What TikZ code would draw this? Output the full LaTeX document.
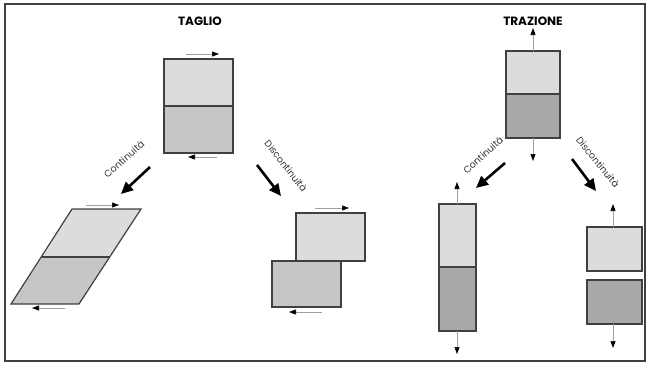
\documentclass[tikz,border=0pt]{standalone}
\usepackage{fontspec}
\setmainfont{Poppins}
\usetikzlibrary{arrows.meta}
\definecolor{edge}{HTML}{404040}
\definecolor{lightblk}{HTML}{DCDCDC}
\definecolor{midblk}{HTML}{C6C6C6}
\definecolor{darkblk}{HTML}{A8A8A8}
\tikzset{
  block/.style={draw=edge, line width=1.2pt},
  force/.style={draw=gray!75, line width=0.6pt, -{Triangle[length=7pt,width=5pt,color=black]}},
  bigarrow/.style={line width=2.6pt, -{Triangle[length=12pt,width=11pt]}},
  title/.style={font=\bfseries\fontsize{12}{13}\selectfont},
  lbl/.style={font=\fontsize{9.5}{10}\selectfont, text=black!80, inner sep=1pt},
}
\begin{document}
\begin{tikzpicture}[x=1pt,y=-1pt]
\useasboundingbox (0,0) rectangle (650,365);
\draw[edge, line width=1.3pt] (5,4) rectangle (645,361);

% ---------- shear ----------
\node[title] (taglio) at (200,21) {TAGLIO};
% undeformed block
\fill[lightblk] (164,59) rectangle (233,106);
\fill[midblk] (164,106) rectangle (233,153);
\draw[block] (164,59) rectangle (233,153);
\draw[block] (164,106) -- (233,106);
\coordinate (s1a) at (186,54); \coordinate (s1b) at (219,54);
\coordinate (s2a) at (217,157); \coordinate (s2b) at (188,157);
\draw[force] (s1a) -- (s1b);
\draw[force] (s2a) -- (s2b);
% continuous: parallelogram
\fill[lightblk] (72,209) -- (141,209) -- (110,257) -- (42,257) -- cycle;
\fill[midblk] (42,257) -- (110,257) -- (79,304) -- (11,304) -- cycle;
\draw[block] (72,209) -- (141,209) -- (79,304) -- (11,304) -- cycle;
\draw[block] (42,257) -- (110,257);
\coordinate (p1a) at (86,205); \coordinate (p1b) at (119,205);
\coordinate (p2a) at (65,308); \coordinate (p2b) at (32,308);
\draw[force] (p1a) -- (p1b);
\draw[force] (p2a) -- (p2b);
% discontinuous: slipped halves
\fill[lightblk] (296,213) rectangle (365,261);
\draw[block] (296,213) rectangle (365,261);
\fill[midblk] (272,261) rectangle (341,307);
\draw[block] (272,261) rectangle (341,307);
\coordinate (d1a) at (315,208); \coordinate (d1b) at (349,208);
\coordinate (d2a) at (322,312); \coordinate (d2b) at (289,312);
\draw[force] (d1a) -- (d1b);
\draw[force] (d2a) -- (d2b);
% branch arrows
\coordinate (sc1) at (150,167); \coordinate (sc2) at (121,194);
\draw[bigarrow] (sc1) -- (sc2);
\node[lbl, rotate=41] (sclbl) at (124,159) {Continuità};
\coordinate (sd1) at (257,165); \coordinate (sd2) at (281,196);
\draw[bigarrow] (sd1) -- (sd2);
\node[lbl, rotate=-52] (sdlbl) at (286,166) {Discontinuità};

% ---------- tension ----------
\node[title] (trazione) at (533,21) {TRAZIONE};
\fill[lightblk] (506,51) rectangle (560,94);
\fill[darkblk] (506,94) rectangle (560,138);
\draw[block] (506,51) rectangle (560,138);
\draw[block] (506,94) -- (560,94);
\coordinate (t1a) at (533,51); \coordinate (t1b) at (533,28);
\coordinate (t2a) at (533,138); \coordinate (t2b) at (533,161);
\draw[force] (t1a) -- (t1b);
\draw[force] (t2a) -- (t2b);
% continuous: elongated bar
\fill[lightblk] (439,204) rectangle (476,267);
\fill[darkblk] (439,267) rectangle (476,331);
\draw[block] (439,204) rectangle (476,331);
\draw[block] (439,267) -- (476,267);
\coordinate (e1a) at (457,204); \coordinate (e1b) at (457,182);
\coordinate (e2a) at (457,331); \coordinate (e2b) at (457,354);
\draw[force] (e1a) -- (e1b);
\draw[force] (e2a) -- (e2b);
% discontinuous: separated halves
\fill[lightblk] (587,227) rectangle (642,271);
\draw[block] (587,227) rectangle (642,271);
\fill[darkblk] (587,280) rectangle (642,324);
\draw[block] (587,280) rectangle (642,324);
\coordinate (f1a) at (613,227); \coordinate (f1b) at (613,204);
\coordinate (f2a) at (613,324); \coordinate (f2b) at (613,348);
\draw[force] (f1a) -- (f1b);
\draw[force] (f2a) -- (f2b);
% branch arrows
\coordinate (tc1) at (505,163); \coordinate (tc2) at (476,188);
\draw[bigarrow] (tc1) -- (tc2);
\node[lbl, rotate=42] (tclbl) at (483,155) {Continuità};
\coordinate (td1) at (572,159); \coordinate (td2) at (596,191);
\draw[bigarrow] (td1) -- (td2);
\node[lbl, rotate=-51] (tdlbl) at (598,162) {Discontinuità};
\end{tikzpicture}
\end{document}
